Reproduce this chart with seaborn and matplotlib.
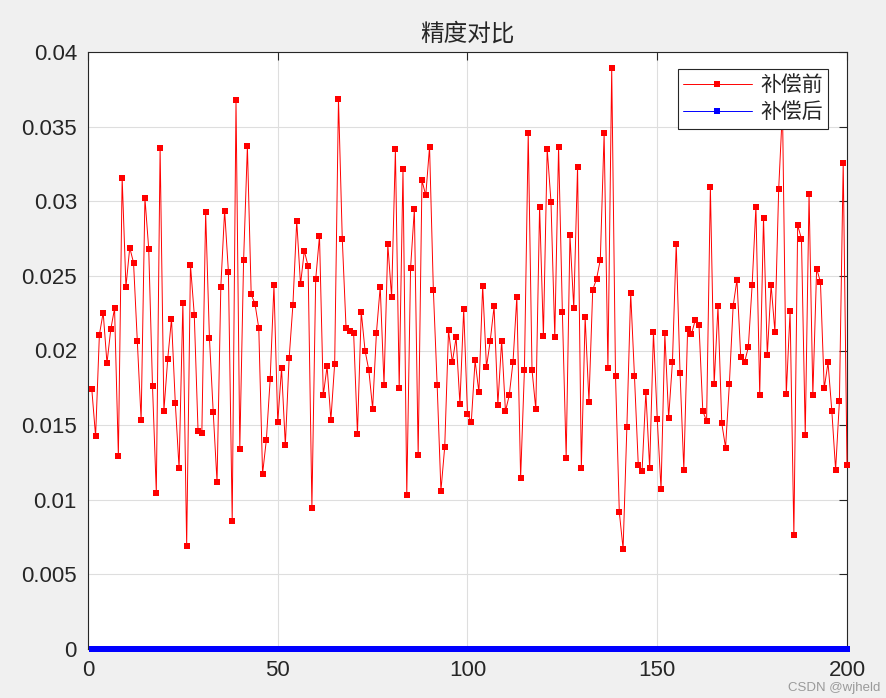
import matplotlib
matplotlib.use("Agg")
import matplotlib.pyplot as plt
import seaborn as sns
import pandas as pd

# ---------------- data ----------------
sample_index = list(range(1, 201))

before_comp = [
    0.01741, 0.01425, 0.02106, 0.02254, 0.01915, 0.02142, 0.02282, 0.01293, 0.03158, 0.02427,
    0.02689, 0.02588, 0.02065, 0.01531, 0.03023, 0.02681, 0.01759, 0.01047, 0.03358, 0.01596,
    0.01940, 0.02212, 0.01650, 0.01210, 0.02321, 0.00692, 0.02573, 0.02241, 0.01459, 0.01448,
    0.02925, 0.02083, 0.01585, 0.01119, 0.02427, 0.02938, 0.02526, 0.00855, 0.03676, 0.01339,
    0.02604, 0.03368, 0.02376, 0.02313, 0.02150, 0.01174, 0.01402, 0.01806, 0.02438, 0.01518,
    0.01881, 0.01365, 0.01948, 0.02308, 0.02868, 0.02443, 0.02668, 0.02565, 0.00948, 0.02477,
    0.02767, 0.01700, 0.01894, 0.01534, 0.01912, 0.03687, 0.02749, 0.02150, 0.02132, 0.02114,
    0.01443, 0.02259, 0.02000, 0.01868, 0.01611, 0.02117, 0.02427, 0.01772, 0.02712, 0.02358,
    0.03347, 0.01751, 0.03215, 0.01031, 0.02552, 0.02948, 0.01298, 0.03140, 0.03039, 0.03365,
    0.02407, 0.01772, 0.01060, 0.01355, 0.02135, 0.01920, 0.02088, 0.01642, 0.02277, 0.01575,
    0.01521, 0.01933, 0.01720, 0.02435, 0.01889, 0.02067, 0.02295, 0.01637, 0.02067, 0.01593,
    0.01700, 0.01925, 0.02360, 0.01145, 0.01870, 0.03459, 0.01870, 0.01606, 0.02964, 0.02096,
    0.03352, 0.02995, 0.02091, 0.03365, 0.02256, 0.01282, 0.02772, 0.02285, 0.03231, 0.01212,
    0.02223, 0.01658, 0.02407, 0.02479, 0.02609, 0.03456, 0.01881, 0.03891, 0.01832, 0.00917,
    0.00671, 0.01490, 0.02386, 0.01826, 0.01233, 0.01192, 0.01723, 0.01210, 0.02122, 0.01539,
    0.01070, 0.02114, 0.01549, 0.01922, 0.02715, 0.01852, 0.01202, 0.02142, 0.02109, 0.02202,
    0.02171, 0.01596, 0.01526, 0.03093, 0.01775, 0.02295, 0.01513, 0.01350, 0.01775, 0.02298,
    0.02474, 0.01956, 0.01920, 0.02023, 0.02438, 0.02964, 0.01702, 0.02889, 0.01969, 0.02440,
    0.02127, 0.03083, 0.03620, 0.01707, 0.02264, 0.00764, 0.02839, 0.02749, 0.01435, 0.03049,
    0.01702, 0.02549, 0.02459, 0.01746, 0.01920, 0.01596, 0.01200, 0.01661, 0.03259, 0.01231,
]

after_comp = [
    0.0, 0.0, 0.0, 0.0, 0.0, 0.0, 0.0, 0.0, 0.0, 0.0, 0.0, 0.0, 0.0, 0.0, 0.0, 0.0, 0.0, 0.0, 0.0, 0.0,
    0.0, 0.0, 0.0, 0.0, 0.0, 0.0, 0.0, 0.0, 0.0, 0.0, 0.0, 0.0, 0.0, 0.0, 0.0, 0.0, 0.0, 0.0, 0.0, 0.0,
    0.0, 0.0, 0.0, 0.0, 0.0, 0.0, 0.0, 0.0, 0.0, 0.0, 0.0, 0.0, 0.0, 0.0, 0.0, 0.0, 0.0, 0.0, 0.0, 0.0,
    0.0, 0.0, 0.0, 0.0, 0.0, 0.0, 0.0, 0.0, 0.0, 0.0, 0.0, 0.0, 0.0, 0.0, 0.0, 0.0, 0.0, 0.0, 0.0, 0.0,
    0.0, 0.0, 0.0, 0.0, 0.0, 0.0, 0.0, 0.0, 0.0, 0.0, 0.0, 0.0, 0.0, 0.0, 0.0, 0.0, 0.0, 0.0, 0.0, 0.0,
    0.0, 0.0, 0.0, 0.0, 0.0, 0.0, 0.0, 0.0, 0.0, 0.0, 0.0, 0.0, 0.0, 0.0, 0.0, 0.0, 0.0, 0.0, 0.0, 0.0,
    0.0, 0.0, 0.0, 0.0, 0.0, 0.0, 0.0, 0.0, 0.0, 0.0, 0.0, 0.0, 0.0, 0.0, 0.0, 0.0, 0.0, 0.0, 0.0, 0.0,
    0.0, 0.0, 0.0, 0.0, 0.0, 0.0, 0.0, 0.0, 0.0, 0.0, 0.0, 0.0, 0.0, 0.0, 0.0, 0.0, 0.0, 0.0, 0.0, 0.0,
    0.0, 0.0, 0.0, 0.0, 0.0, 0.0, 0.0, 0.0, 0.0, 0.0, 0.0, 0.0, 0.0, 0.0, 0.0, 0.0, 0.0, 0.0, 0.0, 0.0,
    0.0, 0.0, 0.0, 0.0, 0.0, 0.0, 0.0, 0.0, 0.0, 0.0, 0.0, 0.0, 0.0, 0.0, 0.0, 0.0, 0.0, 0.0, 0.0, 0.0,
]

series_labels = ["补偿前", "补偿后"]
x_ticks = [0, 50, 100, 150, 200]
y_ticks = [0, 0.005, 0.01, 0.015, 0.02, 0.025, 0.03, 0.035, 0.04]
y_tick_labels = ["0", "0.005", "0.01", "0.015", "0.02", "0.025", "0.03", "0.035", "0.04"]
title_text = "精度对比"

# ---------------- style ----------------
sns.set_style("white")
plt.rcParams["font.family"] = ["Liberation Sans", "Noto Sans CJK SC", "DejaVu Sans"]
plt.rcParams["axes.unicode_minus"] = False

TXT = "#262626"
W, H = 887, 698
fig = plt.figure(figsize=(W / 100, H / 100), dpi=100, facecolor="#f0f0f0")
ax = fig.add_axes([88 / W, 49 / H, 759 / W, 597 / H])
ax.set_facecolor("white")

df = pd.DataFrame({"idx": sample_index, "before": before_comp, "after": after_comp})

sns.lineplot(data=df, x="idx", y="before", ax=ax, color="#ff0000", linewidth=0.7,
             marker="s", markersize=3.8, markeredgewidth=0, markerfacecolor="#ff0000",
             label=series_labels[0], clip_on=False, zorder=3)
sns.lineplot(data=df, x="idx", y="after", ax=ax, color="#0000ff", linewidth=0.7,
             marker="s", markersize=3.8, markeredgewidth=0, markerfacecolor="#0000ff",
             label=series_labels[1], clip_on=False, zorder=4)

ax.set_xlim(0, 200)
ax.set_ylim(0, 0.04)
ax.set_xticks(x_ticks)
ax.set_xticklabels([str(t) for t in x_ticks])
ax.set_yticks(y_ticks)
ax.set_yticklabels(y_tick_labels)
ax.set_xlabel("")
ax.set_ylabel("")

ax.grid(True, color="#dedede", linewidth=0.8)
ax.set_axisbelow(True)
for s in ax.spines.values():
    s.set_visible(True)
    s.set_color(TXT)
    s.set_linewidth(0.8)

ax.tick_params(direction="in", length=6, width=0.8, top=True, right=True,
               labelsize=16, colors=TXT, pad=8)

ax.set_title(title_text, fontsize=17, color=TXT, pad=8,
             family=["Noto Sans CJK SC", "DejaVu Sans"])

leg = ax.legend(loc="upper right", bbox_to_anchor=((828 - 88) / 759, (649 - 69) / 597),
                borderaxespad=0, fancybox=False, frameon=True, edgecolor=TXT,
                facecolor="white", framealpha=1, handlelength=3.3,
                handletextpad=0.4, labelspacing=0.25, borderpad=0.25,
                prop={"family": ["Noto Sans CJK SC", "DejaVu Sans"], "size": 15})
leg.get_frame().set_linewidth(0.8)
leg.set_zorder(10)
for t in leg.get_texts():
    t.set_color(TXT)

fig.text(0.992, 0.006, "CSDN @wjheld", ha="right", va="bottom", fontsize=9.5,
         color="#9a9a9a")

fig.savefig("out.png", dpi=100, facecolor=fig.get_facecolor())
